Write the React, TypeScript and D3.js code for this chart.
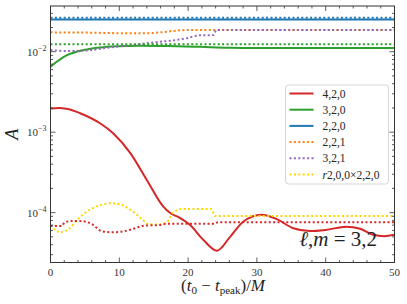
import React from "react";
import * as d3 from "d3";

const W = 407;
const H = 304;
const box = { left: 50.5, right: 394.5, top: 6, bottom: 262.5 };
const FONT = "Liberation Serif, DejaVu Serif, serif";

// time axis samples and amplitudes
const t420 = [0, 1.2, 2.5, 4.3, 7.2, 9.1, 11.6, 14, 16.4, 17.4, 18.8, 20.3, 22.2, 24.2, 26.1, 28, 30.7, 32.9, 35.3, 37.7, 40, 43, 45, 46.9, 48.5, 50];
const a420 = [1.97e-3, 2.0e-3, 1.94e-3, 1.72e-3, 1.29e-3, 9.7e-4, 5.5e-4, 2.55e-4, 1.19e-4, 9.9e-5, 8.6e-5, 7.0e-5, 4.6e-5, 3.37e-5, 5.0e-5, 7.7e-5, 9.4e-5, 8.3e-5, 6.4e-5, 5.9e-5, 6.1e-5, 6.7e-5, 6.3e-5, 5.3e-5, 5.1e-5, 5.3e-5];

const t320 = [0, 1, 2, 3, 4.8, 7.2, 9.6, 13, 17, 21.7, 26, 30, 50];
const a320 = [6.5e-3, 7.6e-3, 8.7e-3, 9.5e-3, 1.05e-2, 1.13e-2, 1.17e-2, 1.19e-2, 1.18e-2, 1.15e-2, 1.12e-2, 1.11e-2, 1.11e-2];

const t220 = [0, 50];
const a220 = [0.0252, 0.0252];

const t221 = [0, 5, 10, 14, 16, 17.5, 20, 50];
const a221 = [1.74e-2, 1.73e-2, 1.7e-2, 1.7e-2, 1.74e-2, 1.8e-2, 1.86e-2, 1.86e-2];

const t321 = [0, 2.3, 4.8, 8.6, 14.5, 19.8, 21.7, 23.7, 24.1, 50];
const a321 = [1.05e-2, 1.02e-2, 1.03e-2, 1.13e-2, 1.29e-2, 1.47e-2, 1.6e-2, 1.61e-2, 1.86e-2, 1.86e-2];

const tQuad = [0, 1.4, 2.6, 4, 5, 7, 8.9, 10.3, 12, 13.3, 14.2, 15.7, 16.9, 17.8, 19, 23.4, 23.9, 50];
const aQuad = [7.0e-5, 5.7e-5, 6.2e-5, 8.3e-5, 9.9e-5, 1.22e-4, 1.31e-4, 1.25e-4, 1.03e-4, 8.3e-5, 7.2e-5, 7.1e-5, 7.6e-5, 9.9e-5, 1.11e-4, 1.11e-4, 9.1e-5, 9.1e-5];

// unlabelled dotted fits
const t420d = [0, 1.6, 2.1, 3.3, 4.8, 6, 7.4, 8.9, 10.3, 11.8, 13.7, 15.7, 17.1, 24, 24.3, 50];
const a420d = [6.8e-5, 6.8e-5, 7.6e-5, 7.9e-5, 7.8e-5, 7.2e-5, 5.9e-5, 5.7e-5, 5.8e-5, 6.2e-5, 6.9e-5, 7.0e-5, 7.3e-5, 7.3e-5, 7.6e-5, 7.6e-5];
const t320d = [0, 50];
const a320d = [0.01236, 0.01236];
const t220d = [0, 50];
const a220d = [0.0264, 0.0264];

const xTicks = [0, 10, 20, 30, 40, 50];
const yTicks = [1e-4, 1e-3, 1e-2];
const yTickExp = ["−4", "−3", "−2"];

type Series = { t: number[]; a: number[]; color: string; dotted: boolean; label?: string };

const series: Series[] = [
  { t: t420, a: a420, color: "#d62728", dotted: false, label: "4,2,0" },
  { t: t320, a: a320, color: "#2ca02c", dotted: false, label: "3,2,0" },
  { t: t220, a: a220, color: "#1f77b4", dotted: false, label: "2,2,0" },
  { t: t221, a: a221, color: "#ff7f0e", dotted: true, label: "2,2,1" },
  { t: t321, a: a321, color: "#9467bd", dotted: true, label: "3,2,1" },
  { t: tQuad, a: aQuad, color: "#ffd700", dotted: true, label: "r2,0,0×2,2,0" },
  { t: t420d, a: a420d, color: "#d62728", dotted: true },
  { t: t320d, a: a320d, color: "#2ca02c", dotted: true },
  { t: t220d, a: a220d, color: "#1f77b4", dotted: true },
];

const DASH = "2,2.4";

export default function App() {
  const x = d3.scaleLinear().domain([0, 50]).range([box.left, box.right]);
  const y = d3.scaleLog().domain([2.4e-5, 3.7e-2]).range([box.bottom, box.top]);

  const line = d3
    .line<[number, number]>()
    .x((d) => x(d[0]))
    .y((d) => y(d[1]))
    .curve(d3.curveMonotoneX);

  const xMinor = d3.range(0, 51, 2).filter((v) => v % 10 !== 0);
  const yMinor: number[] = [];
  for (let e = -5; e <= -2; e++) {
    for (let k = 2; k <= 9; k++) {
      const v = k * Math.pow(10, e);
      if (v > 2.4e-5 && v < 3.7e-2) yMinor.push(v);
    }
  }

  const labelled = series.filter((s) => s.label);
  const legX = 285.5;
  const legY = 85;
  const legRow = 16.2;

  const frame = "#333";

  return (
    <svg
      width={W}
      height={H}
      style={{ position: "absolute", left: 0, top: 0, background: "#fff", fontFamily: FONT }}
    >
      <defs>
        <clipPath id="plot">
          <rect x={box.left} y={box.top} width={box.right - box.left} height={box.bottom - box.top} />
        </clipPath>
      </defs>

      <g clipPath="url(#plot)">
        {series.map((s, i) => (
          <path
            key={i}
            d={line(s.t.map((t, j) => [t, s.a[j]] as [number, number])) || ""}
            fill="none"
            stroke={s.color}
            strokeWidth={2}
            strokeDasharray={s.dotted ? DASH : undefined}
          />
        ))}
      </g>

      {/* ticks, inward on all sides */}
      <g stroke={frame} strokeWidth={0.8}>
        {xTicks.map((v) => (
          <g key={"xm" + v}>
            <line x1={x(v)} x2={x(v)} y1={box.bottom} y2={box.bottom - 5} />
            <line x1={x(v)} x2={x(v)} y1={box.top} y2={box.top + 5} />
          </g>
        ))}
        {xMinor.map((v) => (
          <g key={"xn" + v}>
            <line x1={x(v)} x2={x(v)} y1={box.bottom} y2={box.bottom - 2.5} />
            <line x1={x(v)} x2={x(v)} y1={box.top} y2={box.top + 2.5} />
          </g>
        ))}
        {yTicks.map((v) => (
          <g key={"ym" + v}>
            <line x1={box.left} x2={box.left + 5} y1={y(v)} y2={y(v)} />
            <line x1={box.right} x2={box.right - 5} y1={y(v)} y2={y(v)} />
          </g>
        ))}
        {yMinor.map((v) => (
          <g key={"yn" + v}>
            <line x1={box.left} x2={box.left + 2.5} y1={y(v)} y2={y(v)} />
            <line x1={box.right} x2={box.right - 2.5} y1={y(v)} y2={y(v)} />
          </g>
        ))}
      </g>

      <rect
        x={box.left}
        y={box.top}
        width={box.right - box.left}
        height={box.bottom - box.top}
        fill="none"
        stroke={frame}
        strokeWidth={1}
      />

      {xTicks.map((v) => (
        <text key={"xl" + v} x={x(v)} y={box.bottom + 13} textAnchor="middle" fontSize={11} fill="#333">
          {v}
        </text>
      ))}
      {yTicks.map((v, i) => (
        <text key={"yl" + v} x={box.left - 4} y={y(v) + 4} textAnchor="end" fontSize={11} fill="#333">
          10
          <tspan fontSize={8} dy={-5}>
            {yTickExp[i]}
          </tspan>
        </text>
      ))}

      <text x={223} y={291} textAnchor="middle" fontSize={17} fill="#222">
        (<tspan fontStyle="italic">t</tspan>
        <tspan fontSize={11} dy={3}>0</tspan>
        <tspan dy={-3}> − </tspan>
        <tspan fontStyle="italic">t</tspan>
        <tspan fontSize={11} dy={3}>peak</tspan>
        <tspan dy={-3}>)/</tspan>
        <tspan fontStyle="italic">M</tspan>
      </text>
      <text
        transform={`translate(18,${(box.top + box.bottom) / 2}) rotate(-90)`}
        textAnchor="middle"
        fontSize={18}
        fontStyle="italic"
        fill="#222"
      >
        A
      </text>

      <text x={377} y={246} textAnchor="end" fontSize={21} fill="#222">
        <tspan fontStyle="italic">ℓ</tspan>,<tspan fontStyle="italic">m</tspan> = 3,2
      </text>

      {/* legend */}
      <rect x={legX} y={legY} width={103} height={99} rx={3} fill="#fff" fillOpacity={0.85} stroke="#ccc" strokeWidth={0.8} />
      {labelled.map((s, i) => {
        const ry = legY + 8.5 + i * legRow;
        return (
          <g key={"lg" + i}>
            <line
              x1={legX + 4}
              x2={legX + 28}
              y1={ry}
              y2={ry}
              stroke={s.color}
              strokeWidth={2}
              strokeDasharray={s.dotted ? DASH : undefined}
            />
            <text x={legX + 37} y={ry + 4} fontSize={11.5} fill="#222">
              {s.label!.startsWith("r") ? (
                <>
                  <tspan fontStyle="italic">r</tspan>
                  {s.label!.slice(1)}
                </>
              ) : (
                s.label
              )}
            </text>
          </g>
        );
      })}
    </svg>
  );
}
